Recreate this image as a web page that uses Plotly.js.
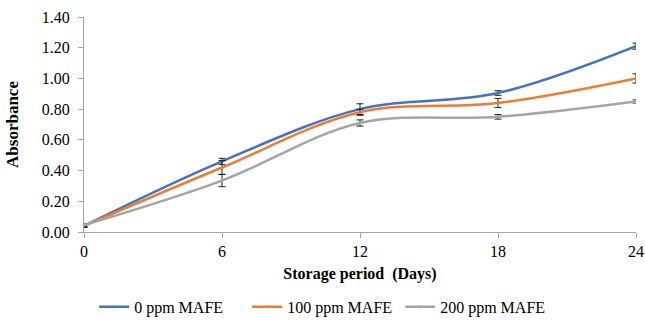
<!DOCTYPE html>
<html><head><meta charset="utf-8">
<script src="https://cdn.plot.ly/plotly-3.0.1.min.js"></script>
<style>html,body{margin:0;padding:0;background:#fff}#c{width:645px;height:323px}</style>
</head><body><div id="c"></div>
<script>
const days = [0, 6, 12, 18, 24];
const seriesNames = ["0 ppm MAFE", "100 ppm MAFE", "200 ppm MAFE"];
const ppm0 = [0.04, 0.46, 0.80, 0.905, 1.21];
const ppm100 = [0.04, 0.42, 0.78, 0.84, 1.00];
const ppm200 = [0.045, 0.335, 0.71, 0.75, 0.85];
const err0 = [0.01, 0.02, 0.035, 0.015, 0.02];
const err100 = [0.01, 0.045, 0.02, 0.03, 0.03];
const err200 = [0.01, 0.04, 0.02, 0.015, 0.01];
const colors = ["#4472C4", "#ED7D31", "#A5A5A5"];
const values = [ppm0, ppm100, ppm200];
const errs = [err0, err100, err200];
const font = "Liberation Serif, Times New Roman, serif";

const traces = values.map((v, i) => ({
  x: days, y: v, name: seriesNames[i], type: "scatter", mode: "lines+markers",
  line: {color: colors[i], width: 2.5, shape: "spline", smoothing: 1},
  marker: {size: 3, color: colors[i]},
  error_y: {type: "data", array: errs[i], visible: true, color: "#222", thickness: 1, width: 3.5}
}));

const layout = {
  width: 645, height: 323,
  margin: {l: 84, r: 9, t: 17, b: 91, autoexpand: false},
  paper_bgcolor: "#fff", plot_bgcolor: "#fff",
  font: {family: font, size: 16, color: "#000"},
  showlegend: true,
  legend: {orientation: "h", xref: "container", yref: "container", x: 0.146, xanchor: "left",
           y: 0.05, yanchor: "middle", entrywidth: 108, entrywidthmode: "pixels",
           font: {family: font, size: 16, color: "#000"}, itemwidth: 30, tracegroupgap: 0},
  xaxis: {
    range: [0, 24], tickvals: days, ticktext: days.map(String),
    showgrid: false, zeroline: false, showline: true, linecolor: "#A6A6A6", linewidth: 1,
    ticks: "outside", ticklen: 5, tickcolor: "#A6A6A6", ticklabeloverflow: "allow",
    tickfont: {family: font, size: 16, color: "#000"},
    title: {text: "<b>Storage period  (Days)</b>", font: {family: font, size: 16, color: "#000"}, standoff: 8}
  },
  yaxis: {
    range: [0, 1.4], dtick: 0.2, tickformat: ".2f",
    showgrid: false, zeroline: false, showline: true, linecolor: "#A6A6A6", linewidth: 1,
    ticks: "outside", ticklen: 5, tickcolor: "#A6A6A6", ticklabelstandoff: 5,
    tickfont: {family: font, size: 16, color: "#000"},
    title: {text: "<b>Absorbance</b>", font: {family: font, size: 17, color: "#000"}, standoff: 18}
  }
};
Plotly.newPlot("c", traces, layout, {displayModeBar: false, staticPlot: true});
</script></body></html>
